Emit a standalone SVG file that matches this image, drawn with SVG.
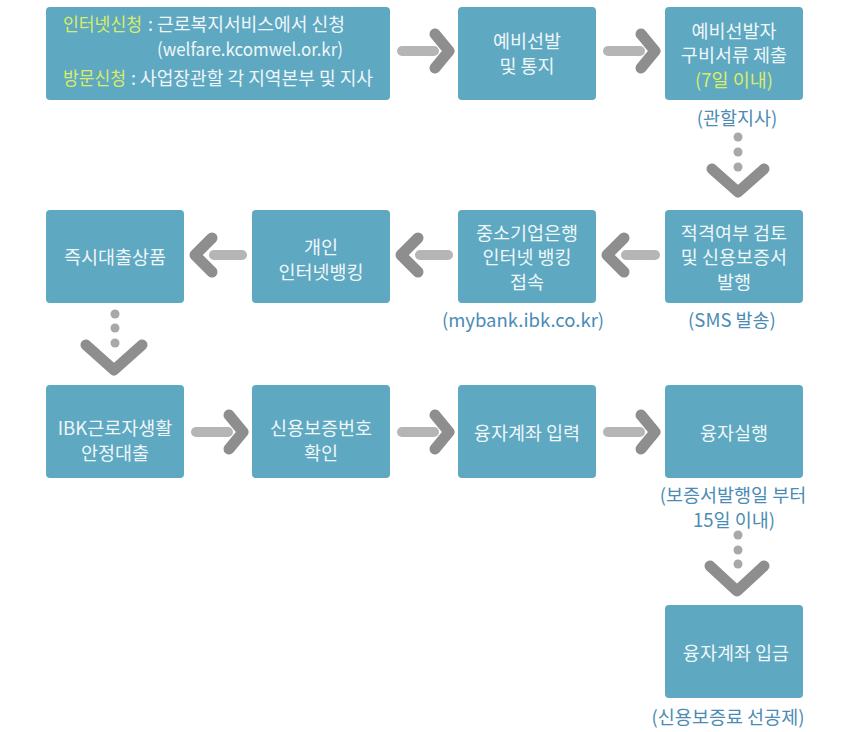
<svg xmlns="http://www.w3.org/2000/svg" width="862" height="732" viewBox="0 0 862 732">
<style>
.box{fill:#5fa8c1}
.t{font-family:"Noto Sans CJK KR","Noto Sans",sans-serif;font-size:18.5px;fill:#eef7fa;text-anchor:middle}
.tl{font-family:"Noto Sans CJK KR","Noto Sans",sans-serif;font-size:18px;fill:#eef7fa}
.y{fill:#d8ed6a}
.lbl{font-family:"Noto Sans CJK KR","Noto Sans",sans-serif;font-size:18.5px;fill:#4b8cb4;text-anchor:middle}
.shaft{stroke:#b5b5b5;stroke-width:10;stroke-linecap:round;fill:none}
.chev{stroke:#8e8e8e;stroke-width:11;stroke-linecap:round;stroke-linejoin:round;fill:none}
.dot{fill:#a8a8a8}
</style>
<rect width="862" height="732" fill="#ffffff"/>

<g id="connectors">
  <!-- row 1 -->
  <line class="shaft" x1="402" y1="51" x2="434" y2="51"/>
  <polyline class="chev" points="435,34 449,51 435,68"/>
  <line class="shaft" x1="608" y1="51" x2="640" y2="51"/>
  <polyline class="chev" points="641,34 655,51 641,68"/>
  <!-- down 1 -->
  <circle class="dot" cx="738" cy="137" r="4.5"/>
  <circle class="dot" cx="738" cy="152" r="4.5"/>
  <circle class="dot" cx="738" cy="167" r="4.5"/>
  <polyline class="chev" points="712,169 738,192 764,169"/>
  <!-- row 2 (leftwards) -->
  <line class="shaft" x1="626" y1="255" x2="655" y2="255"/>
  <polyline class="chev" points="624,238 607,255 624,272"/>
  <line class="shaft" x1="420" y1="255" x2="448" y2="255"/>
  <polyline class="chev" points="418,238 401,255 418,272"/>
  <line class="shaft" x1="214" y1="255" x2="242" y2="255"/>
  <polyline class="chev" points="212,238 195,255 212,272"/>
  <!-- down 2 -->
  <circle class="dot" cx="115" cy="314" r="4.5"/>
  <circle class="dot" cx="115" cy="328" r="4.5"/>
  <circle class="dot" cx="115" cy="343" r="4.5"/>
  <polyline class="chev" points="86,345 114,370 142,345"/>
  <!-- row 3 -->
  <line class="shaft" x1="196" y1="432" x2="228" y2="432"/>
  <polyline class="chev" points="229,415 243,432 229,449"/>
  <line class="shaft" x1="402" y1="432" x2="434" y2="432"/>
  <polyline class="chev" points="435,415 449,432 435,449"/>
  <line class="shaft" x1="608" y1="432" x2="640" y2="432"/>
  <polyline class="chev" points="641,415 655,432 641,449"/>
  <!-- down 3 -->
  <circle class="dot" cx="738" cy="535" r="4.5"/>
  <circle class="dot" cx="738" cy="550" r="4.5"/>
  <circle class="dot" cx="738" cy="564" r="4.5"/>
  <polyline class="chev" points="710,566 737,591 764,566"/>
</g>

<g id="apply">
  <rect class="box" x="46" y="7" width="344" height="93" rx="4"/>
  <text class="tl" y="31"><tspan class="y" x="63" textLength="79" lengthAdjust="spacingAndGlyphs">인터넷신청</tspan><tspan x="148">:</tspan><tspan x="157" textLength="188" lengthAdjust="spacingAndGlyphs">근로복지서비스에서 신청</tspan></text>
  <text class="tl" x="157" y="56" font-size="17.5" textLength="186" lengthAdjust="spacingAndGlyphs">(welfare.kcomwel.or.kr)</text>
  <text class="tl" y="85"><tspan class="y" x="63" textLength="63" lengthAdjust="spacingAndGlyphs">방문신청</tspan><tspan x="131">:</tspan><tspan x="140" textLength="233" lengthAdjust="spacingAndGlyphs">사업장관할 각 지역본부 및 지사</tspan></text>
</g>

<g id="preselect">
  <rect class="box" x="458" y="7" width="138" height="93" rx="4"/>
  <text class="t" x="527" y="48">예비선발</text>
  <text class="t" x="527" y="72.5">및 통지</text>
</g>

<g id="submit">
  <rect class="box" x="665" y="7" width="138" height="93" rx="4"/>
  <text class="t" x="734" y="37.5">예비선발자</text>
  <text class="t" x="734" y="62">구비서류 제출</text>
  <text class="t y" x="734" y="86.5">(7일 이내)</text>
  <text class="lbl" x="737" y="125">(관할지사)</text>
</g>

<g id="review">
  <rect class="box" x="665" y="210" width="138" height="93" rx="4"/>
  <text class="t" x="734" y="239.5">적격여부 검토</text>
  <text class="t" x="734" y="264">및 신용보증서</text>
  <text class="t" x="734" y="288.5">발행</text>
  <text class="lbl" x="732" y="327">(SMS 발송)</text>
</g>

<g id="ibk-bank">
  <rect class="box" x="458" y="210" width="138" height="93" rx="4"/>
  <text class="t" x="527" y="239.5">중소기업은행</text>
  <text class="t" x="527" y="264">인터넷 뱅킹</text>
  <text class="t" x="527" y="288.5">접속</text>
  <text class="lbl" x="523" y="327">(mybank.ibk.co.kr)</text>
</g>

<g id="personal-banking">
  <rect class="box" x="252" y="210" width="138" height="93" rx="4"/>
  <text class="t" x="321" y="254">개인</text>
  <text class="t" x="321" y="278.5">인터넷뱅킹</text>
</g>

<g id="instant-loan">
  <rect class="box" x="46" y="210" width="138" height="93" rx="4"/>
  <text class="t" x="115" y="264">즉시대출상품</text>
</g>

<g id="ibk-loan">
  <rect class="box" x="46" y="385" width="138" height="93" rx="4"/>
  <text class="t" x="115" y="435">IBK근로자생활</text>
  <text class="t" x="115" y="459.5">안정대출</text>
</g>

<g id="guarantee-no">
  <rect class="box" x="252" y="385" width="138" height="93" rx="4"/>
  <text class="t" x="321" y="435">신용보증번호</text>
  <text class="t" x="321" y="459.5">확인</text>
</g>

<g id="account-input">
  <rect class="box" x="458" y="385" width="138" height="93" rx="4"/>
  <text class="t" x="527" y="440">융자계좌 입력</text>
</g>

<g id="execute">
  <rect class="box" x="665" y="385" width="138" height="93" rx="4"/>
  <text class="t" x="734" y="440">융자실행</text>
  <text class="lbl" x="733" y="502">(보증서발행일 부터</text>
  <text class="lbl" x="734" y="526.5">15일 이내)</text>
</g>

<g id="deposit">
  <rect class="box" x="665" y="605" width="138" height="93" rx="4"/>
  <text class="t" x="736" y="660">융자계좌 입금</text>
  <text class="lbl" x="728" y="724">(신용보증료 선공제)</text>
</g>
</svg>
